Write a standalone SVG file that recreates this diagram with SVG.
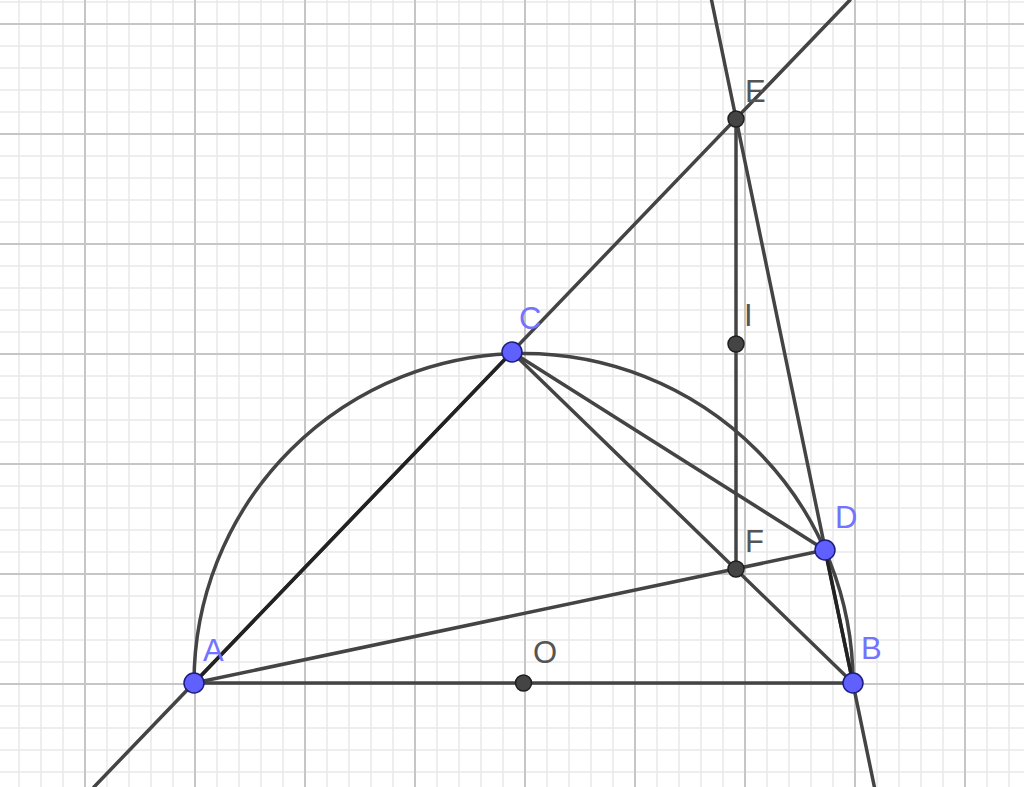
<svg xmlns="http://www.w3.org/2000/svg" width="1024" height="787" viewBox="0 0 1024 787">
<defs>
<style>
.minor{stroke:#e9e9e9;stroke-width:1.5}
.major{stroke:#c6c6c6;stroke-width:2}
.ln{stroke:#444;stroke-width:3.5;fill:none;stroke-linecap:round}
.dk{stroke:#222}
.pb{fill:#6060ff;stroke:#1c1c80;stroke-width:1.5}
.pd{fill:#444;stroke:#1e1e1e;stroke-width:1.5}
.lb{font-family:"Liberation Sans",Arial,sans-serif;font-size:31px;fill:#7373ff}
.ld{font-family:"Liberation Sans",Arial,sans-serif;font-size:31px;fill:#555}
</style>
</defs>
<rect width="1024" height="787" fill="#fff"/>
<g id="grid">
<g class="minor">
<path d="M19,0V787M41,0V787M63,0V787M107,0V787M129,0V787M151,0V787M173,0V787M217,0V787M239,0V787M261,0V787M283,0V787M327,0V787M349,0V787M371,0V787M393,0V787M437,0V787M459,0V787M481,0V787M503,0V787M547,0V787M569,0V787M591,0V787M613,0V787M657,0V787M679,0V787M701,0V787M723,0V787M767,0V787M789,0V787M811,0V787M833,0V787M877,0V787M899,0V787M921,0V787M943,0V787M987,0V787M1009,0V787"/>
<path d="M0,2H1024M0,46H1024M0,68H1024M0,90H1024M0,112H1024M0,156H1024M0,178H1024M0,200H1024M0,222H1024M0,266H1024M0,288H1024M0,310H1024M0,332H1024M0,376H1024M0,398H1024M0,420H1024M0,442H1024M0,486H1024M0,508H1024M0,530H1024M0,552H1024M0,596H1024M0,618H1024M0,640H1024M0,662H1024M0,706H1024M0,728H1024M0,750H1024M0,772H1024"/>
</g>
<g class="major">
<path d="M85,0V787M195,0V787M305,0V787M415,0V787M525,0V787M635,0V787M745,0V787M855,0V787M965,0V787"/>
<path d="M0,24H1024M0,134H1024M0,244H1024M0,354H1024M0,464H1024M0,574H1024M0,684H1024"/>
</g>
</g>
<g id="connectors">
<path class="ln" d="M194,683A329.5,329.5 0 0 1 853,683"/>
<line class="ln" x1="94" y1="787" x2="850" y2="0"/>
<line class="ln" x1="711.5" y1="0" x2="874.4" y2="787"/>
<line class="ln" x1="194" y1="683" x2="853" y2="683"/>
<line class="ln dk" x1="194" y1="683" x2="512" y2="352"/>
<line class="ln" x1="194" y1="683" x2="825" y2="550"/>
<line class="ln" x1="512" y1="352" x2="853" y2="683"/>
<line class="ln" x1="512" y1="352" x2="825" y2="550"/>
<line class="ln dk" x1="825" y1="550" x2="853" y2="683"/>
<line class="ln" x1="736" y1="119" x2="736" y2="569"/>
</g>
<g id="node-O"><circle class="pd" cx="523.5" cy="683" r="8"/><text class="ld" x="533" y="663">O</text></g>
<g id="node-I"><circle class="pd" cx="736" cy="344" r="8"/><text class="ld" x="744" y="326">I</text></g>
<g id="node-F"><circle class="pd" cx="736" cy="569" r="8"/><text class="ld" x="745" y="552">F</text></g>
<g id="node-E"><circle class="pd" cx="736" cy="119" r="8"/><text class="ld" x="745" y="102">E</text></g>
<g id="node-A"><circle class="pb" cx="194" cy="683" r="10"/><text class="lb" x="203" y="661">A</text></g>
<g id="node-B"><circle class="pb" cx="853" cy="683" r="10"/><text class="lb" x="861" y="659">B</text></g>
<g id="node-C"><circle class="pb" cx="512" cy="352" r="10"/><text class="lb" x="519" y="329">C</text></g>
<g id="node-D"><circle class="pb" cx="825" cy="550" r="10"/><text class="lb" x="835" y="528">D</text></g>
</svg>
